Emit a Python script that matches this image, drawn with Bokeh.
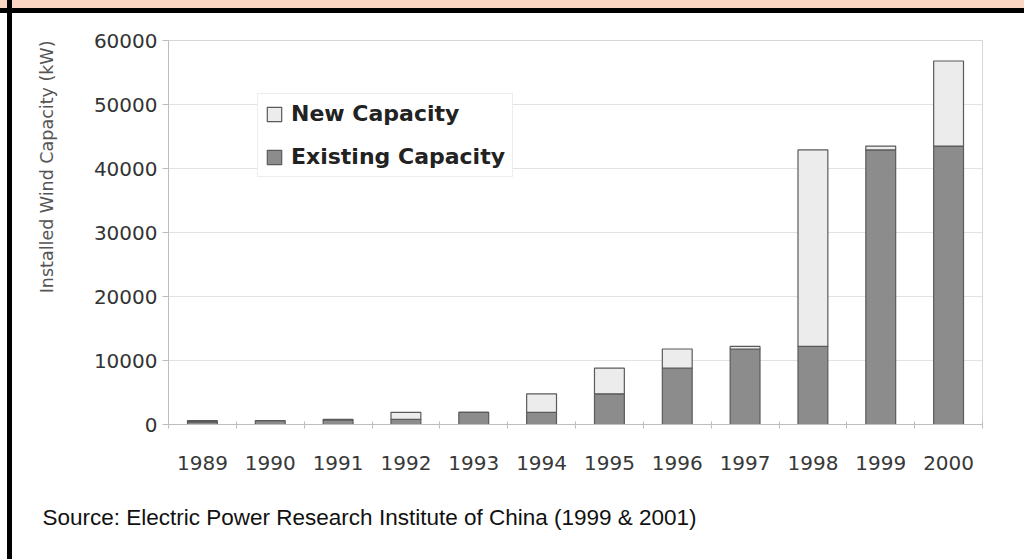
from bokeh.plotting import figure
from bokeh.models import (ColumnDataSource, Range1d, FixedTicker, Legend, LegendItem,
                          Title, NumeralTickFormatter)
from bokeh.embed import file_html
from bokeh.resources import INLINE

# ---- data (kW) ----
years = ["1989", "1990", "1991", "1992", "1993", "1994",
         "1995", "1996", "1997", "1998", "1999", "2000"]
existing = [400, 600, 700, 800, 1900, 1900, 4800, 8800, 11800, 12200, 42900, 43500]
new_cap = [200, 0, 100, 1100, 0, 2900, 4000, 3000, 400, 30700, 600, 13300]
y_ticks = [0, 10000, 20000, 30000, 40000, 50000, 60000]

# ---- layout (pixels) ----
W, H = 1024, 559
L, R, T, B = 168, 42, 40, 135
Y_MAX = 60000
N = len(years)

src = ColumnDataSource(dict(x=list(range(N)), existing=existing, new=new_cap))

p = figure(width=W, height=H, output_backend="svg", toolbar_location=None,
           x_range=Range1d(-0.5, N - 0.5), y_range=Range1d(0, Y_MAX),
           min_border_left=L, min_border_right=R, min_border_top=T, min_border_bottom=B)
p.background_fill_color = "white"
p.border_fill_alpha = 0
p.outline_line_color = "#d6d6d6"
p.outline_line_width = 1
# page decoration (salmon header band, black rules) painted behind the canvas
p.styles = {
    "background": ("linear-gradient(#000000, #000000) 7px 0 / 5px 100% no-repeat, "
                   "linear-gradient(#000000, #000000) 0 8px / 100% 5px no-repeat, "
                   "linear-gradient(#fbd7c3, #fbd7c3) 0 0 / 100% 8px no-repeat, "
                   "#ffffff"),
}

dark = "#8c8c8c"
light = "#ececec"
rs = p.vbar_stack(["existing", "new"], x="x", width=0.44, source=src,
                  fill_color=[dark, light], line_color="#5a5a5a", line_width=1.2)

# y axis
p.yaxis.ticker = FixedTicker(ticks=y_ticks)
p.yaxis.formatter = NumeralTickFormatter(format="0")
p.yaxis.axis_line_color = "#bdbdbd"
p.yaxis.major_tick_line_color = "#bdbdbd"
p.yaxis.major_tick_out = 6
p.yaxis.major_tick_in = 0
p.yaxis.minor_tick_line_color = None
p.yaxis.major_label_standoff = 5
p.yaxis.major_label_text_font = "DejaVu Sans"
p.yaxis.major_label_text_font_size = "20px"
p.yaxis.major_label_text_color = "#333333"

# x axis
p.xaxis.ticker = FixedTicker(ticks=list(range(N)),
                             minor_ticks=[i - 0.5 for i in range(N + 1)])
p.xaxis.major_label_overrides = {i: years[i] for i in range(N)}
p.xaxis.axis_line_color = "#bdbdbd"
p.xaxis.major_tick_line_color = None
p.xaxis.major_tick_out = 6
p.xaxis.minor_tick_line_color = "#bdbdbd"
p.xaxis.minor_tick_in = 3
p.xaxis.minor_tick_out = 4
p.xaxis.major_label_standoff = 25
p.xaxis.major_label_text_font = "DejaVu Sans"
p.xaxis.major_label_text_font_size = "20px"
p.xaxis.major_label_text_color = "#383838"

p.xgrid.visible = False
p.ygrid.ticker = FixedTicker(ticks=y_ticks)
p.ygrid.grid_line_color = "#e2e2e2"
p.ygrid.grid_line_width = 1

legend = Legend(items=[LegendItem(label="New Capacity", renderers=[rs[1]]),
                       LegendItem(label="Existing Capacity", renderers=[rs[0]])],
                location=(89, 247))
legend.label_text_font = "DejaVu Sans"
legend.label_text_font_style = "bold"
legend.label_text_font_size = "22px"
legend.label_text_color = "#222222"
legend.glyph_width = 18
legend.glyph_height = 18
legend.label_height = 25
legend.label_standoff = 8
legend.spacing = 18
legend.padding = 7
legend.margin = 0
legend.border_line_color = "#dcdcdc"
legend.border_line_width = 1
legend.background_fill_color = "white"
legend.background_fill_alpha = 1
p.add_layout(legend)

# y axis title (aligned to the top of the plot area, as in the original)
ytitle = Title(text="Installed Wind Capacity (kW)", align="right",
               text_font="DejaVu Sans", text_font_size="17.5px",
               text_font_style="normal", text_color="#555555", standoff=68)
p.add_layout(ytitle, "left")

# source note
src_note = Title(text="Source: Electric Power Research Institute of China (1999 & 2001)",
                 align="left", offset=-126, standoff=60,
                 text_font="Liberation Sans", text_font_size="22.5px",
                 text_font_style="normal", text_color="#111111")
p.add_layout(src_note, "below")

open("out.html", "w").write(file_html(p, INLINE))
